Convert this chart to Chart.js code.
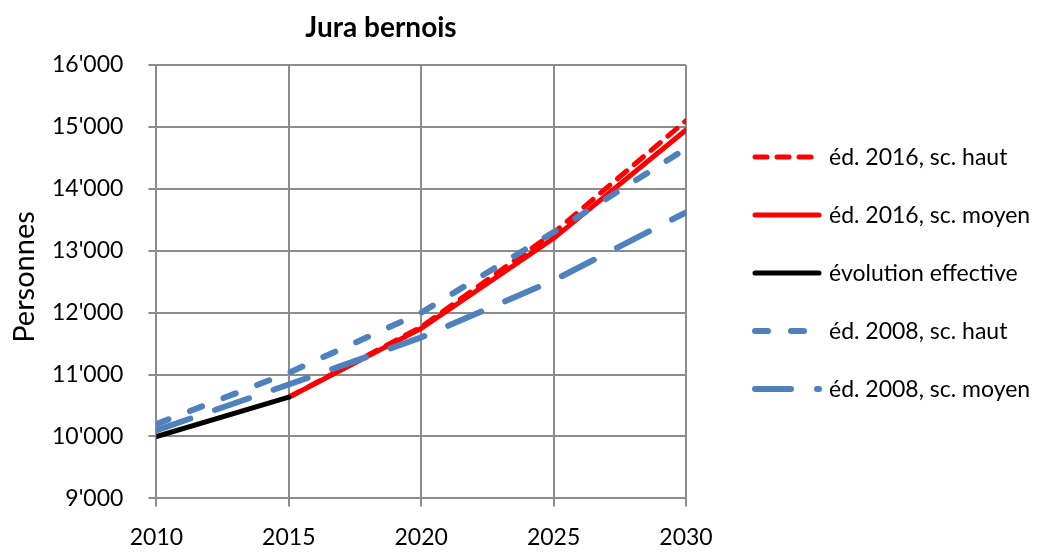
<!DOCTYPE html>
<html>
<head>
<meta charset="utf-8">
<script src="https://cdn.jsdelivr.net/npm/chart.js@4/dist/chart.umd.min.js"></script>
<style>
  body { margin: 0; background: #fff; }
  #chart { display: block; }
</style>
</head>
<body>
<canvas id="chart" width="1046" height="552"></canvas>
<script>
'use strict';

const titleText = 'Jura bernois';
const yTitle = 'Personnes';

const effYears = [2010, 2015];
const effValues = [10000, 10635];

const projYears = [2015, 2020, 2025, 2030];
const haut2016 = [10635, 11770, 13290, 15100];
const moyen2016 = [10635, 11745, 13200, 14950];

const oldYears = [2010, 2015, 2020, 2025, 2030];
const haut2008 = [10200, 11030, 12000, 13300, 14650];
const moyen2008 = [10100, 10840, 11600, 12520, 13620];

const seriesLabels = [
    'éd. 2016, sc. haut',
    'éd. 2016, sc. moyen',
    'évolution effective',
    'éd. 2008, sc. haut',
    'éd. 2008, sc. moyen'
];

const RED = '#ff0000';
const BLUE = '#4f81bd';
const FONT = 'Lato, "Open Sans", sans-serif';

function points(xs, ys) {
    return xs.map((x, i) => ({x: x, y: ys[i]}));
}

function thousands(v) {
    return String(v).replace(/\B(?=(\d{3})+(?!\d))/g, "'");
}

function line(label, data, color, width, dash, order) {
    return {
        label: label,
        data: data,
        borderColor: color,
        backgroundColor: color,
        borderWidth: width,
        borderDash: dash,
        borderCapStyle: 'round',
        pointRadius: 0,
        tension: 0,
        order: order
    };
}

// title, axis title and legend are drawn by hand (built-in legend can't dash its lines)
const decorPlugin = {
    id: 'decor',
    afterDraw(chart) {
        const ctx = chart.ctx;
        const area = chart.chartArea;
        ctx.save();
        ctx.fillStyle = '#000';
        ctx.textAlign = 'center';
        ctx.textBaseline = 'middle';
        ctx.font = 'bold 28px ' + FONT;
        ctx.fillText(titleText, 381, 28);

        ctx.save();
        ctx.translate(25, 277);
        ctx.rotate(-Math.PI / 2);
        ctx.font = '29px ' + FONT;
        ctx.fillText(yTitle, 0, 0);
        ctx.restore();

        const x0 = area.right + 69;
        const lineLen = 64;
        let y = 157;
        ctx.font = '23px ' + FONT;
        ctx.textAlign = 'left';
        chart.data.datasets.forEach(ds => {
            ctx.beginPath();
            ctx.strokeStyle = ds.borderColor;
            ctx.lineWidth = ds.borderWidth;
            ctx.lineCap = 'round';
            ctx.setLineDash(ds.borderDash);
            ctx.moveTo(x0, y);
            ctx.lineTo(x0 + lineLen, y);
            ctx.stroke();
            ctx.setLineDash([]);
            ctx.fillText(ds.label, 829, y + 1);
            y += 58;
        });
        ctx.restore();
    }
};

const ctx = document.getElementById('chart').getContext('2d');

new Chart(ctx, {
    type: 'line',
    data: {
        datasets: [
            line(seriesLabels[0], points(projYears, haut2016), RED, 5, [12, 10], 5),
            line(seriesLabels[1], points(projYears, moyen2016), RED, 5, [], 4),
            line(seriesLabels[2], points(effYears, effValues), '#000', 5, [], 3),
            line(seriesLabels[3], points(oldYears, haut2008), BLUE, 6, [13, 23], 2),
            line(seriesLabels[4], points(oldYears, moyen2008), BLUE, 6, [36, 26], 1)
        ]
    },
    options: {
        responsive: false,
        animation: false,
        layout: {
            padding: {top: 65, left: 27, right: 360, bottom: -16}
        },
        plugins: {
            title: {display: false},
            tooltip: {enabled: false},
            legend: {display: false}
        },
        scales: {
            x: {
                type: 'linear',
                min: 2010,
                max: 2030,
                ticks: {
                    stepSize: 5,
                    color: '#000',
                    font: {family: FONT, size: 23},
                    padding: 17,
                    maxRotation: 0,
                    callback: v => String(v)
                },
                grid: {color: '#8c8c8c', lineWidth: 2, tickLength: 8},
                border: {color: '#8c8c8c', width: 2}
            },
            y: {
                min: 9000,
                max: 16000,
                ticks: {
                    stepSize: 1000,
                    color: '#000',
                    font: {family: FONT, size: 23},
                    padding: 25,
                    callback: v => thousands(v)
                },
                grid: {color: '#8c8c8c', lineWidth: 2, tickLength: 8},
                border: {color: '#8c8c8c', width: 2}
            }
        }
    },
    plugins: [decorPlugin]
});
</script>
</body>
</html>
